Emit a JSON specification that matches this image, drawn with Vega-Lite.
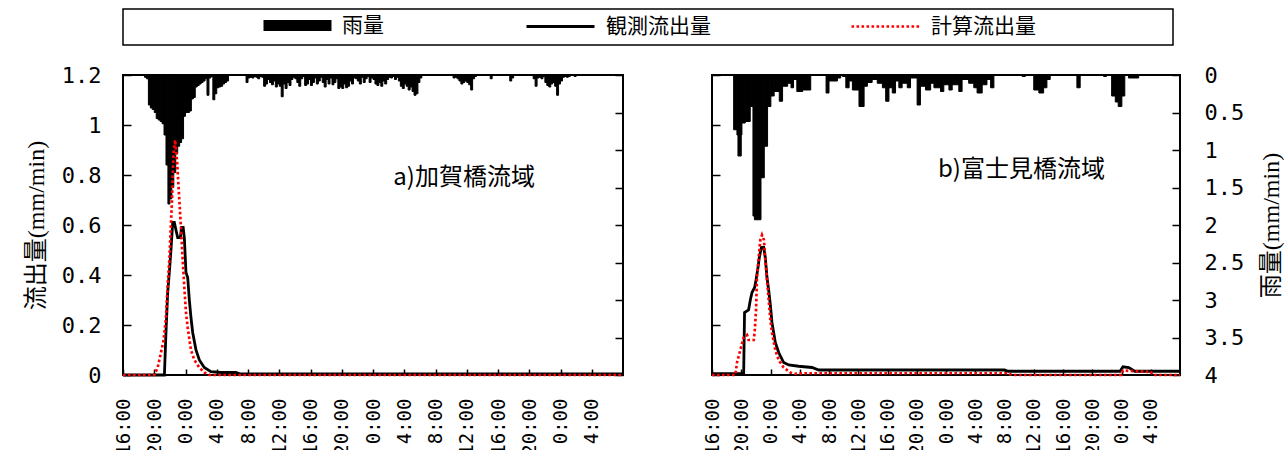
{
  "$schema": "https://vega.github.io/schema/vega-lite/v6.json",
  "background": "white",
  "padding": {"left": 23, "top": 8, "right": 0, "bottom": 0},
  "datasets": {
    "rainA": [
      {"t0":2.75,"t1":3.0,"r":0.03},{"t0":3.0,"t1":3.25,"r":0.05},{"t0":3.25,"t1":3.5,"r":0.4},{"t0":3.5,"t1":3.75,"r":0.44},{"t0":3.75,"t1":4.0,"r":0.46},{"t0":4.0,"t1":4.25,"r":0.5},{"t0":4.25,"t1":4.5,"r":0.58},{"t0":4.5,"t1":4.75,"r":0.6},{"t0":4.75,"t1":5.0,"r":0.62},{"t0":5.0,"t1":5.25,"r":0.65},{"t0":5.25,"t1":5.5,"r":0.8},{"t0":5.5,"t1":5.75,"r":1.2},{"t0":5.75,"t1":6.0,"r":1.72},{"t0":6.0,"t1":6.25,"r":1.65},{"t0":6.25,"t1":6.5,"r":1.5},{"t0":6.5,"t1":6.75,"r":1.3},{"t0":6.75,"t1":7.0,"r":1.05},{"t0":7.0,"t1":7.25,"r":0.95},{"t0":7.25,"t1":7.5,"r":0.9},{"t0":7.5,"t1":7.75,"r":0.85},{"t0":7.75,"t1":8.0,"r":0.55},{"t0":8.0,"t1":8.25,"r":0.5},{"t0":8.25,"t1":8.5,"r":0.5},{"t0":8.5,"t1":8.75,"r":0.48},{"t0":8.75,"t1":9.0,"r":0.32},{"t0":9.0,"t1":9.25,"r":0.3},{"t0":9.25,"t1":9.5,"r":0.16},{"t0":9.5,"t1":9.75,"r":0.14},{"t0":9.75,"t1":10.0,"r":0.12},{"t0":10.0,"t1":10.25,"r":0.1},{"t0":10.25,"t1":10.5,"r":0.08},{"t0":10.5,"t1":10.75,"r":0.05},{"t0":10.75,"t1":11.0,"r":0.27},{"t0":11.0,"t1":11.25,"r":0.04},{"t0":11.25,"t1":11.5,"r":0.02},{"t0":11.5,"t1":11.75,"r":0.33},{"t0":11.75,"t1":12.0,"r":0.25},{"t0":12.0,"t1":12.25,"r":0.17},{"t0":12.25,"t1":12.5,"r":0.16},{"t0":12.5,"t1":12.75,"r":0.15},{"t0":12.75,"t1":13.0,"r":0.12},{"t0":13.0,"t1":13.25,"r":0.1},{"t0":13.25,"t1":13.5,"r":0.08},
      {"t0":15.75,"t1":16.0,"r":0.1},{"t0":16.0,"t1":16.25,"r":0.04},{"t0":16.25,"t1":16.5,"r":0.03},{"t0":16.5,"t1":16.75,"r":0.04},{"t0":16.75,"t1":17.0,"r":0.02},{"t0":17.0,"t1":17.25,"r":0.03},{"t0":17.25,"t1":17.5,"r":0.05},{"t0":17.5,"t1":17.75,"r":0.02},{"t0":17.75,"t1":18.0,"r":0.03},{"t0":18.0,"t1":18.25,"r":0.15},{"t0":18.25,"t1":18.5,"r":0.12},{"t0":18.5,"t1":18.75,"r":0.06},{"t0":18.75,"t1":19.0,"r":0.1},{"t0":19.0,"t1":19.25,"r":0.13},{"t0":19.25,"t1":19.5,"r":0.08},{"t0":19.5,"t1":19.75,"r":0.16},{"t0":19.75,"t1":20.0,"r":0.12},{"t0":20.0,"t1":20.25,"r":0.15},{"t0":20.25,"t1":20.5,"r":0.29},{"t0":20.5,"t1":20.75,"r":0.12},{"t0":20.75,"t1":21.0,"r":0.18},{"t0":21.0,"t1":21.25,"r":0.1},{"t0":21.25,"t1":21.5,"r":0.14},{"t0":21.5,"t1":21.75,"r":0.06},{"t0":21.75,"t1":22.0,"r":0.03},{"t0":22.0,"t1":22.25,"r":0.05},{"t0":22.25,"t1":22.5,"r":0.1},{"t0":22.5,"t1":22.75,"r":0.15},{"t0":22.75,"t1":23.0,"r":0.05},{"t0":23.0,"t1":23.25,"r":0.02},{"t0":23.25,"t1":23.5,"r":0.14},{"t0":23.5,"t1":23.75,"r":0.12},{"t0":23.75,"t1":24.0,"r":0.06},{"t0":24.0,"t1":24.25,"r":0.14},{"t0":24.25,"t1":24.5,"r":0.1},{"t0":24.5,"t1":24.75,"r":0.04},{"t0":24.75,"t1":25.0,"r":0.12},{"t0":25.0,"t1":25.25,"r":0.08},{"t0":25.25,"t1":25.5,"r":0.03},{"t0":25.5,"t1":25.75,"r":0.1},{"t0":25.75,"t1":26.0,"r":0.16},{"t0":26.0,"t1":26.25,"r":0.06},{"t0":26.25,"t1":26.5,"r":0.12},{"t0":26.5,"t1":26.75,"r":0.04},{"t0":26.75,"t1":27.0,"r":0.13},{"t0":27.0,"t1":27.25,"r":0.1},{"t0":27.25,"t1":27.5,"r":0.05},{"t0":27.5,"t1":27.75,"r":0.18},{"t0":27.75,"t1":28.0,"r":0.16},{"t0":28.0,"t1":28.25,"r":0.18},{"t0":28.25,"t1":28.5,"r":0.12},{"t0":28.5,"t1":28.75,"r":0.17},{"t0":28.75,"t1":29.0,"r":0.15},{"t0":29.0,"t1":29.25,"r":0.08},{"t0":29.25,"t1":29.5,"r":0.12},{"t0":29.5,"t1":29.75,"r":0.04},{"t0":29.75,"t1":30.0,"r":0.05},{"t0":30.0,"t1":30.25,"r":0.08},{"t0":30.25,"t1":30.5,"r":0.12},{"t0":30.5,"t1":30.75,"r":0.03},{"t0":30.75,"t1":31.0,"r":0.1},{"t0":31.0,"t1":31.25,"r":0.05},{"t0":31.25,"t1":31.5,"r":0.02},{"t0":31.5,"t1":31.75,"r":0.1},{"t0":31.75,"t1":32.0,"r":0.04},{"t0":32.0,"t1":32.25,"r":0.06},{"t0":32.25,"t1":32.5,"r":0.12},{"t0":32.5,"t1":32.75,"r":0.14},{"t0":32.75,"t1":33.0,"r":0.1},{"t0":33.0,"t1":33.25,"r":0.15},{"t0":33.25,"t1":33.5,"r":0.08},{"t0":33.5,"t1":33.75,"r":0.12},{"t0":33.75,"t1":34.0,"r":0.06},{"t0":34.0,"t1":34.25,"r":0.03},{"t0":34.25,"t1":34.5,"r":0.04},{"t0":34.5,"t1":34.75,"r":0.02},{"t0":34.75,"t1":35.0,"r":0.06},{"t0":35.0,"t1":35.25,"r":0.03},{"t0":35.25,"t1":35.5,"r":0.08},{"t0":35.5,"t1":35.75,"r":0.15},{"t0":35.75,"t1":36.0,"r":0.18},{"t0":36.0,"t1":36.25,"r":0.12},{"t0":36.25,"t1":36.5,"r":0.15},{"t0":36.5,"t1":36.75,"r":0.2},{"t0":36.75,"t1":37.0,"r":0.16},{"t0":37.0,"t1":37.25,"r":0.22},{"t0":37.25,"t1":37.5,"r":0.27},{"t0":37.5,"t1":37.75,"r":0.25},{"t0":37.75,"t1":38.0,"r":0.1},{"t0":38.0,"t1":38.25,"r":0.04},
      {"t0":42.25,"t1":42.5,"r":0.04},{"t0":42.5,"t1":42.75,"r":0.03},{"t0":42.75,"t1":43.0,"r":0.05},{"t0":43.0,"t1":43.25,"r":0.08},{"t0":43.25,"t1":43.5,"r":0.12},{"t0":43.5,"t1":43.75,"r":0.1},{"t0":43.75,"t1":44.0,"r":0.08},{"t0":44.0,"t1":44.25,"r":0.1},{"t0":44.25,"t1":44.5,"r":0.13},{"t0":44.5,"t1":44.75,"r":0.2},{"t0":44.75,"t1":45.0,"r":0.05},{"t0":45.0,"t1":45.25,"r":0.02},
      {"t0":47.0,"t1":47.25,"r":0.05},{"t0":49.5,"t1":49.75,"r":0.08},{"t0":49.75,"t1":50.0,"r":0.04},
      {"t0":52.5,"t1":52.75,"r":0.05},{"t0":52.75,"t1":53.0,"r":0.15},{"t0":53.0,"t1":53.25,"r":0.04},{"t0":53.25,"t1":53.5,"r":0.03},{"t0":53.5,"t1":53.75,"r":0.05},{"t0":53.75,"t1":54.0,"r":0.02},{"t0":54.0,"t1":54.25,"r":0.1},{"t0":54.25,"t1":54.5,"r":0.14},{"t0":54.5,"t1":54.75,"r":0.16},{"t0":54.75,"t1":55.0,"r":0.12},{"t0":55.0,"t1":55.25,"r":0.1},{"t0":55.25,"t1":55.5,"r":0.15},{"t0":55.5,"t1":55.75,"r":0.27},{"t0":55.75,"t1":56.0,"r":0.12},{"t0":56.0,"t1":56.25,"r":0.08},{"t0":56.25,"t1":56.5,"r":0.03},{"t0":56.5,"t1":56.75,"r":0.02},{"t0":56.75,"t1":57.0,"r":0.03},{"t0":57.0,"t1":57.25,"r":0.02},{"t0":57.75,"t1":58.0,"r":0.02}
    ],
    "rainB": [
      {"t0":2.96,"t1":3.41,"r":0.73},{"t0":3.41,"t1":3.55,"r":0.8},{"t0":3.55,"t1":4.0,"r":1.08},{"t0":4.0,"t1":4.09,"r":0.8},{"t0":4.09,"t1":4.55,"r":0.64},{"t0":4.55,"t1":5.23,"r":0.62},{"t0":5.23,"t1":5.6,"r":0.42},{"t0":5.6,"t1":5.8,"r":1.88},{"t0":5.8,"t1":6.7,"r":1.93},{"t0":6.7,"t1":7.15,"r":1.37},{"t0":7.15,"t1":7.6,"r":0.95},{"t0":7.6,"t1":8.05,"r":0.42},{"t0":8.05,"t1":8.5,"r":0.28},{"t0":8.5,"t1":9.2,"r":0.22},{"t0":9.2,"t1":9.65,"r":0.35},{"t0":9.65,"t1":10.35,"r":0.15},{"t0":10.35,"t1":10.8,"r":0.11},{"t0":10.8,"t1":11.15,"r":0.17},{"t0":11.15,"t1":11.6,"r":0.06},{"t0":11.6,"t1":12.4,"r":0.22},{"t0":12.4,"t1":13.5,"r":0.2},
      {"t0":15.6,"t1":16.0,"r":0.24},{"t0":16.0,"t1":17.15,"r":0.08},{"t0":17.15,"t1":17.6,"r":0.04},{"t0":17.85,"t1":18.3,"r":0.02},{"t0":18.3,"t1":18.75,"r":0.17},{"t0":18.75,"t1":19.2,"r":0.08},{"t0":19.2,"t1":20.1,"r":0.2},{"t0":20.1,"t1":20.8,"r":0.42},{"t0":20.8,"t1":21.25,"r":0.15},{"t0":21.25,"t1":21.9,"r":0.1},{"t0":21.9,"t1":22.6,"r":0.06},{"t0":22.6,"t1":23.3,"r":0.11},{"t0":23.3,"t1":23.75,"r":0.17},{"t0":23.75,"t1":24.2,"r":0.35},{"t0":24.2,"t1":24.65,"r":0.17},{"t0":24.65,"t1":25.1,"r":0.24},{"t0":25.1,"t1":25.55,"r":0.08},{"t0":25.55,"t1":26.0,"r":0.17},{"t0":26.0,"t1":26.7,"r":0.11},{"t0":26.7,"t1":27.15,"r":0.17},{"t0":27.15,"t1":28.05,"r":0.04},{"t0":28.05,"t1":28.5,"r":0.4},{"t0":28.5,"t1":29.2,"r":0.15},{"t0":29.2,"t1":29.9,"r":0.2},{"t0":29.9,"t1":30.35,"r":0.11},{"t0":30.35,"t1":31.25,"r":0.17},{"t0":31.25,"t1":31.7,"r":0.22},{"t0":31.7,"t1":32.4,"r":0.13},{"t0":32.4,"t1":32.85,"r":0.2},{"t0":32.85,"t1":33.75,"r":0.13},{"t0":33.75,"t1":34.2,"r":0.22},{"t0":34.2,"t1":35.1,"r":0.06},{"t0":35.1,"t1":35.8,"r":0.11},{"t0":35.8,"t1":36.25,"r":0.17},{"t0":36.25,"t1":36.95,"r":0.24},{"t0":36.95,"t1":37.6,"r":0.13},{"t0":37.6,"t1":38.1,"r":0.06},{"t0":38.1,"t1":38.55,"r":0.17},
      {"t0":42.4,"t1":42.85,"r":0.02},{"t0":44.0,"t1":44.7,"r":0.2},{"t0":44.7,"t1":45.35,"r":0.24},{"t0":45.35,"t1":45.8,"r":0.17},{"t0":45.8,"t1":46.25,"r":0.06},{"t0":49.9,"t1":50.35,"r":0.17},{"t0":53.55,"t1":53.95,"r":0.02},{"t0":54.65,"t1":55.15,"r":0.28},{"t0":55.15,"t1":55.55,"r":0.36},{"t0":55.55,"t1":56.05,"r":0.42},{"t0":56.05,"t1":56.45,"r":0.28},{"t0":56.95,"t1":58.35,"r":0.04}
    ],
    "obsA": [
      {"t":0,"q":0},{"t":5.3,"q":0},{"t":5.5,"q":0.17},{"t":5.72,"q":0.33},{"t":5.93,"q":0.41},{"t":6.14,"q":0.5},{"t":6.36,"q":0.61},{"t":6.57,"q":0.61},{"t":6.78,"q":0.58},{"t":7.0,"q":0.55},{"t":7.34,"q":0.55},{"t":7.5,"q":0.59},{"t":7.7,"q":0.59},{"t":7.85,"q":0.55},{"t":8.06,"q":0.41},{"t":8.28,"q":0.39},{"t":8.49,"q":0.3},{"t":8.7,"q":0.23},{"t":8.92,"q":0.17},{"t":9.34,"q":0.1},{"t":9.77,"q":0.06},{"t":10.4,"q":0.03},{"t":11.26,"q":0.013},{"t":12.54,"q":0.01},{"t":14.46,"q":0.01},{"t":15.0,"q":0.004},{"t":64,"q":0.004}
    ],
    "calcA": [
      {"t":0,"q":0},{"t":4.0,"q":0},{"t":4.44,"q":0.03},{"t":4.86,"q":0.09},{"t":5.2,"q":0.14},{"t":5.5,"q":0.23},{"t":5.72,"q":0.36},{"t":5.93,"q":0.46},{"t":6.14,"q":0.61},{"t":6.27,"q":0.7},{"t":6.36,"q":0.79},{"t":6.48,"q":0.89},{"t":6.66,"q":0.94},{"t":6.91,"q":0.86},{"t":7.08,"q":0.77},{"t":7.21,"q":0.7},{"t":7.42,"q":0.59},{"t":7.64,"q":0.46},{"t":7.85,"q":0.35},{"t":8.06,"q":0.25},{"t":8.28,"q":0.19},{"t":8.7,"q":0.1},{"t":9.13,"q":0.06},{"t":9.77,"q":0.03},{"t":10.4,"q":0.01},{"t":11.05,"q":0},{"t":64,"q":0}
    ],
    "obsB": [
      {"t":0,"q":0.005},{"t":4.33,"q":0.005},{"t":4.45,"q":0.25},{"t":5.0,"q":0.26},{"t":5.24,"q":0.3},{"t":5.47,"q":0.33},{"t":5.83,"q":0.35},{"t":6.02,"q":0.38},{"t":6.29,"q":0.43},{"t":6.47,"q":0.47},{"t":6.75,"q":0.51},{"t":7.07,"q":0.51},{"t":7.29,"q":0.47},{"t":7.52,"q":0.39},{"t":7.75,"q":0.34},{"t":7.98,"q":0.28},{"t":8.2,"q":0.21},{"t":8.43,"q":0.17},{"t":8.66,"q":0.13},{"t":9.12,"q":0.09},{"t":9.8,"q":0.05},{"t":10.49,"q":0.04},{"t":11.85,"q":0.035},{"t":13.68,"q":0.03},{"t":14.6,"q":0.02},{"t":40.0,"q":0.02},{"t":40.5,"q":0.015},{"t":55.8,"q":0.015},{"t":56.2,"q":0.033},{"t":57.0,"q":0.03},{"t":57.8,"q":0.015},{"t":64,"q":0.015}
    ],
    "calcB": [
      {"t":0,"q":0},{"t":3.19,"q":0},{"t":3.42,"q":0.05},{"t":3.87,"q":0.1},{"t":4.33,"q":0.15},{"t":4.79,"q":0.16},{"t":5.01,"q":0.14},{"t":5.7,"q":0.14},{"t":5.83,"q":0.17},{"t":6.02,"q":0.26},{"t":6.15,"q":0.39},{"t":6.38,"q":0.47},{"t":6.61,"q":0.54},{"t":6.84,"q":0.56},{"t":7.11,"q":0.54},{"t":7.29,"q":0.46},{"t":7.52,"q":0.38},{"t":7.75,"q":0.3},{"t":7.98,"q":0.22},{"t":8.2,"q":0.17},{"t":8.66,"q":0.1},{"t":9.12,"q":0.06},{"t":9.8,"q":0.03},{"t":10.71,"q":0.01},{"t":11.4,"q":0.005},{"t":13.0,"q":0.007},{"t":40.5,"q":0.007},{"t":41.0,"q":0},{"t":56.0,"q":0},{"t":56.2,"q":0.018},{"t":60.0,"q":0.012},{"t":60.3,"q":0},{"t":64,"q":0}
    ]
  },
  "config": {
    "view": {"stroke": "black", "strokeWidth": 2},
    "axis": {"grid": false, "domain": false, "tickColor": "black", "tickWidth": 1.5, "labelColor": "black", "labelFont": "DejaVu Sans Mono", "labelFontSize": 22, "titleColor": "black", "titleFont": "Liberation Serif, Noto Sans CJK JP", "titleFontSize": 24, "titleFontWeight": "normal", "labelOverlap": false, "tickCount": 100},
    "legend": {"padding": 0, "labelFont": "Noto Sans CJK JP", "labelFontSize": 21, "labelColor": "black", "labelLimit": 400, "symbolSize": 400, "labelOffset": 34, "symbolOpacity": 1}
  },
  "spacing": 17,
  "vconcat": [
    {
      "width": 1050, "height": 36,
      "view": {"stroke": "black", "strokeWidth": 1.5},
      "data": {"values": []},
      "mark": "point",
      "encoding": {}
    },
    {
      "spacing": 72,
      "hconcat": [
        {
          "width": 500, "height": 300,
          "resolve": {"scale": {"y": "independent"}},
          "layer": [
            {
              "data": {"name": "rainA"},
              "mark": {"type": "bar", "stroke": "black", "strokeWidth": 1},
              "encoding": {
                "x": {"field": "t0", "type": "quantitative", "scale": {"domain": [0, 64], "nice": false, "zero": false},
                      "axis": {"values": [0,4,8,12,16,20,24,28,32,36,40,44,48,52,56,60], "tickCount": 100, "labelExpr": "((16 + datum.value) % 24) + ':00'", "labelAngle": -90, "labelFontSize": 19, "labelFlush": false, "labelOverlap": false, "labelBound": false, "tickSize": -6, "labelPadding": 29, "title": null}},
                "x2": {"field": "t1"},
                "y": {"field": "r", "type": "quantitative", "scale": {"domain": [0, 4], "reverse": true, "nice": false, "zero": true},
                      "axis": {"orient": "right", "values": [0,0.5,1,1.5,2,2.5,3,3.5,4], "tickCount": 100, "labels": false, "tickSize": -8, "title": null}},
                "y2": {"datum": 0},
                "fill": {"datum": "雨量", "type": "nominal",
                         "scale": {"domain": ["雨量"], "range": ["black"]},
                         "legend": {"orient": "none", "legendX": 164, "legendY": 6, "title": null,
                                    "symbolType": "M-3.4,-0.55H3.4V0.55H-3.4Z", "symbolStrokeWidth": 0}}
              }
            },
            {
              "layer": [
                {
                  "data": {"name": "obsA"},
                  "mark": {"type": "line", "strokeWidth": 2.8},
                  "encoding": {
                    "x": {"field": "t", "type": "quantitative", "axis": {"values": [0,4,8,12,16,20,24,28,32,36,40,44,48,52,56,60], "tickCount": 100, "labelExpr": "((16 + datum.value) % 24) + ':00'", "labelAngle": -90, "labelFontSize": 19, "labelFlush": false, "labelOverlap": false, "labelBound": false, "tickSize": -6, "labelPadding": 29, "title": null}},
                    "y": {"field": "q", "type": "quantitative", "scale": {"domain": [0, 1.2], "nice": false},
                          "axis": {"orient": "left", "values": [0,0.2,0.4,0.6,0.8,1,1.2], "tickCount": 100, "labelExpr": "'' + datum.value", "tickSize": -8, "labelPadding": 30, "title": "流出量(mm/min)", "titlePadding": 13}},
                    "stroke": {"datum": "観測流出量", "type": "nominal",
                               "scale": {"domain": ["観測流出量"], "range": ["black"]},
                               "legend": {"orient": "none", "legendX": 426, "legendY": 6, "title": null,
                                          "symbolType": "M-3.4,0H3.4", "symbolStrokeWidth": 2.8}}
                  }
                },
                {
                  "data": {"name": "calcA"},
                  "mark": {"type": "line", "stroke": "red", "strokeWidth": 2.7},
                  "encoding": {
                    "x": {"field": "t", "type": "quantitative", "axis": {"values": [0,4,8,12,16,20,24,28,32,36,40,44,48,52,56,60], "tickCount": 100, "labelExpr": "((16 + datum.value) % 24) + ':00'", "labelAngle": -90, "labelFontSize": 19, "labelFlush": false, "labelOverlap": false, "labelBound": false, "tickSize": -6, "labelPadding": 29, "title": null}},
                    "y": {"field": "q", "type": "quantitative",
                          "axis": {"orient": "left", "values": [0,0.2,0.4,0.6,0.8,1,1.2], "tickCount": 100, "labelExpr": "'' + datum.value", "tickSize": -8, "labelPadding": 30, "title": "流出量(mm/min)", "titlePadding": 13}},
                    "strokeDash": {"datum": "計算流出量", "type": "nominal",
                                   "scale": {"domain": ["計算流出量"], "range": [[2.6, 2.4]]},
                                   "legend": {"orient": "none", "legendX": 751, "legendY": 6, "title": null,
                                              "symbolType": "M-3.4,0H3.4", "symbolStrokeWidth": 2.7, "symbolStrokeColor": "red"}}
                  }
                },
                {
                  "data": {"values": [{"label": "a)加賀橋流域"}]},
                  "mark": {"type": "text", "align": "left", "baseline": "middle", "font": "Noto Sans CJK JP", "fontSize": 24, "color": "black"},
                  "encoding": {
                    "x": {"datum": 34.6, "type": "quantitative"},
                    "y": {"datum": 0.79, "type": "quantitative"},
                    "text": {"field": "label"}
                  }
                }
              ]
            }
          ]
        },
        {
          "width": 468, "height": 300,
          "resolve": {"scale": {"y": "independent"}},
          "layer": [
            {
              "data": {"name": "rainB"},
              "mark": {"type": "bar", "stroke": "black", "strokeWidth": 1},
              "encoding": {
                "x": {"field": "t0", "type": "quantitative", "scale": {"domain": [0, 64], "nice": false, "zero": false},
                      "axis": {"values": [0,4,8,12,16,20,24,28,32,36,40,44,48,52,56,60], "tickCount": 100, "labelExpr": "((16 + datum.value) % 24) + ':00'", "labelAngle": -90, "labelFontSize": 19, "labelFlush": false, "labelOverlap": false, "labelBound": false, "tickSize": -6, "labelPadding": 29, "title": null}},
                "x2": {"field": "t1"},
                "y": {"field": "r", "type": "quantitative", "scale": {"domain": [0, 4], "reverse": true, "nice": false, "zero": true},
                      "axis": {"orient": "right", "values": [0,0.5,1,1.5,2,2.5,3,3.5,4], "tickCount": 100, "labelExpr": "'' + datum.value", "tickSize": -8, "labelPadding": 32, "title": "雨量(mm/min)", "titleAngle": 270, "titleBaseline": "top", "titlePadding": 16}},
                "y2": {"datum": 0},
                "fill": {"datum": "雨量", "type": "nominal"}
              }
            },
            {
              "layer": [
                {
                  "data": {"name": "obsB"},
                  "mark": {"type": "line", "strokeWidth": 2.8},
                  "encoding": {
                    "x": {"field": "t", "type": "quantitative", "axis": {"values": [0,4,8,12,16,20,24,28,32,36,40,44,48,52,56,60], "tickCount": 100, "labelExpr": "((16 + datum.value) % 24) + ':00'", "labelAngle": -90, "labelFontSize": 19, "labelFlush": false, "labelOverlap": false, "labelBound": false, "tickSize": -6, "labelPadding": 29, "title": null}},
                    "y": {"field": "q", "type": "quantitative", "scale": {"domain": [0, 1.2], "nice": false},
                          "axis": {"orient": "left", "values": [0,0.2,0.4,0.6,0.8,1,1.2], "tickCount": 100, "labels": false, "tickSize": -8, "title": null}},
                    "stroke": {"datum": "観測流出量", "type": "nominal"}
                  }
                },
                {
                  "data": {"name": "calcB"},
                  "mark": {"type": "line", "stroke": "red", "strokeWidth": 2.7},
                  "encoding": {
                    "x": {"field": "t", "type": "quantitative", "axis": {"values": [0,4,8,12,16,20,24,28,32,36,40,44,48,52,56,60], "tickCount": 100, "labelExpr": "((16 + datum.value) % 24) + ':00'", "labelAngle": -90, "labelFontSize": 19, "labelFlush": false, "labelOverlap": false, "labelBound": false, "tickSize": -6, "labelPadding": 29, "title": null}},
                    "y": {"field": "q", "type": "quantitative",
                          "axis": {"orient": "left", "values": [0,0.2,0.4,0.6,0.8,1,1.2], "tickCount": 100, "labels": false, "tickSize": -8, "title": null}},
                    "strokeDash": {"datum": "計算流出量", "type": "nominal"}
                  }
                },
                {
                  "data": {"values": [{"label": "b)富士見橋流域"}]},
                  "mark": {"type": "text", "align": "left", "baseline": "middle", "font": "Noto Sans CJK JP", "fontSize": 24, "color": "black"},
                  "encoding": {
                    "x": {"datum": 30.9, "type": "quantitative"},
                    "y": {"datum": 0.82, "type": "quantitative"},
                    "text": {"field": "label"}
                  }
                }
              ]
            }
          ]
        }
      ]
    }
  ]
}
